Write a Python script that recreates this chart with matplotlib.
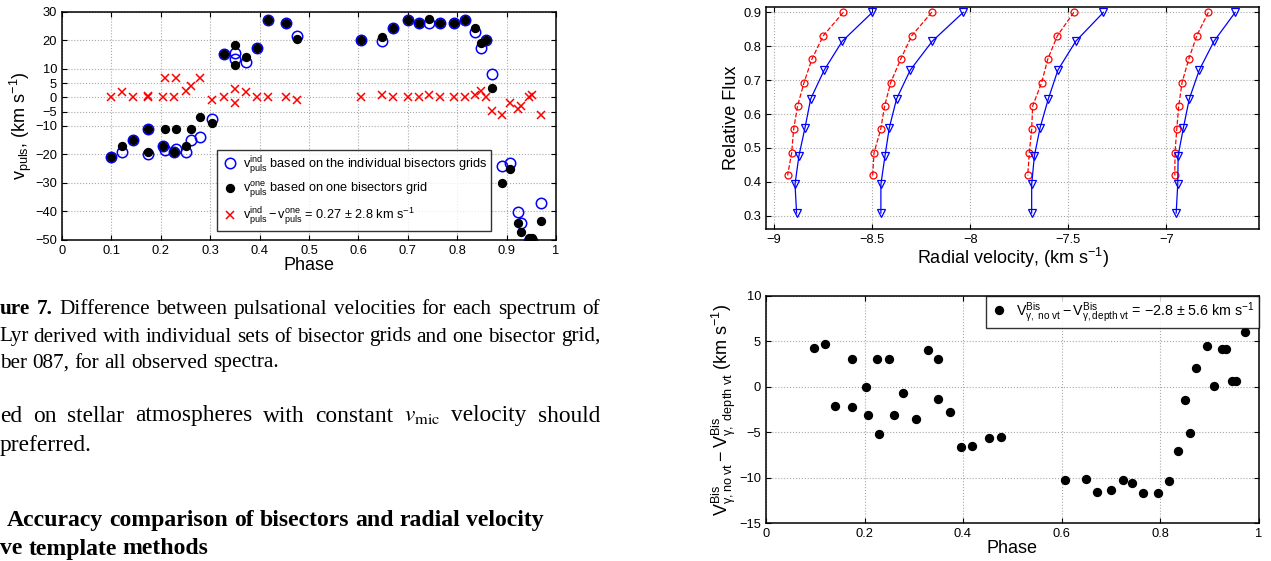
import matplotlib
matplotlib.use('Agg')
import matplotlib.pyplot as plt

plt.rcParams['font.family'] = ['Liberation Sans', 'DejaVu Sans']
plt.rcParams['mathtext.fontset'] = 'custom'
plt.rcParams['mathtext.rm'] = 'Liberation Sans'
plt.rcParams['mathtext.it'] = 'Liberation Sans:italic'
plt.rcParams['mathtext.bf'] = 'Liberation Sans:bold'
plt.rcParams['axes.unicode_minus'] = True

# ---------------- Left panel data ----------------
phase_a = [0.099, 0.121, 0.143, 0.175, 0.175, 0.204, 0.208, 0.227, 0.231, 0.250,
           0.261, 0.279, 0.304, 0.328, 0.350, 0.350, 0.372, 0.395, 0.418, 0.453,
           0.475, 0.605, 0.648, 0.671, 0.700, 0.722, 0.743, 0.765, 0.794, 0.816,
           0.836, 0.848, 0.858, 0.870, 0.891, 0.907, 0.924, 0.930, 0.946, 0.951,
           0.969]
v_ind = [-21.0, -19.1, -15.0, -11.0, -20.0, -17.0, -18.3, -19.1, -18.1, -19.1,
         -14.9, -14.0, -7.6, 15.2, 15.5, 13.4, 12.3, 17.3, 27.3, 26.2,
         21.6, 20.3, 19.9, 24.3, 27.3, 26.3, 26.3, 26.3, 26.3, 27.3,
         23.1, 17.3, 20.3, 8.2, -23.9, -22.9, -40.1, -44.2, -50.3, -50.3,
         -37.1]
v_one = [-21.0, -17.0, -15.0, -11.0, -19.1, -16.9, -11.0, -19.1, -11.0, -16.9,
         -11.0, -7.0, -9.0, 15.2, 18.3, 11.3, 14.3, 17.3, 27.3, 26.2,
         20.4, 20.3, 21.3, 24.3, 27.3, 26.3, 27.4, 26.3, 26.3, 27.3,
         24.3, 19.2, 20.3, 3.2, -29.9, -25.1, -44.2, -47.1, -49.4, -49.2,
         -43.2]
v_diff = [0.0, 2.1, 0.0, 0.7, 0.0, 0.0, 7.0, 0.0, 7.0, 2.2,
          4.0, 7.0, -1.0, 0.0, 3.0, -2.0, 2.0, 0.0, 0.0, 0.0,
          -1.0, 0.0, 1.0, 0.0, 0.0, 0.0, 1.0, 0.0, 0.0, 0.0,
          1.0, 2.2, 0.0, -4.8, -6.0, -2.1, -3.9, -3.0, 0.0, 1.0,
          -6.0]
left_xticks = [0, 0.1, 0.2, 0.3, 0.4, 0.5, 0.6, 0.7, 0.8, 0.9, 1]
left_xticklabels = ['0', '0.1', '0.2', '0.3', '0.4', '0.5', '0.6', '0.7', '0.8', '0.9', '1']
left_yticks = [-50, -40, -30, -20, -10, -5, 0, 5, 10, 20, 30]
left_yticklabels = ['\u221250', '\u221240', '\u221230', '\u221220', '\u221210', '\u22125',
                    '0', '5', '10', '20', '30']

# ---------------- Top-right panel data ----------------
flux_tri = [0.900, 0.815, 0.730, 0.645, 0.560, 0.477, 0.393, 0.308]
flux_circ = [0.900, 0.831, 0.762, 0.693, 0.624, 0.555, 0.486, 0.419]
rv_tri_1 = [-8.500, -8.653, -8.745, -8.814, -8.843, -8.874, -8.894, -8.886]
rv_circ_1 = [-8.648, -8.750, -8.808, -8.848, -8.881, -8.901, -8.911, -8.932]
rv_tri_2 = [-8.036, -8.194, -8.306, -8.376, -8.413, -8.435, -8.456, -8.456]
rv_circ_2 = [-8.197, -8.299, -8.355, -8.406, -8.437, -8.457, -8.491, -8.498]
rv_tri_3 = [-7.321, -7.462, -7.553, -7.602, -7.644, -7.673, -7.687, -7.687]
rv_circ_3 = [-7.472, -7.556, -7.605, -7.636, -7.682, -7.687, -7.699, -7.707]
rv_tri_4 = [-6.649, -6.757, -6.832, -6.883, -6.913, -6.940, -6.942, -6.950]
rv_circ_4 = [-6.786, -6.845, -6.886, -6.920, -6.937, -6.947, -6.956, -6.957]
rv_xticks = [-9, -8.5, -8, -7.5, -7]
rv_xticklabels = ['\u22129', '\u22128.5', '\u22128', '\u22127.5', '\u22127']
flux_yticks = [0.3, 0.4, 0.5, 0.6, 0.7, 0.8, 0.9]
flux_yticklabels = ['0.3', '0.4', '0.5', '0.6', '0.7', '0.8', '0.9']

# ---------------- Bottom-right panel data ----------------
phase_b = [0.098, 0.120, 0.141, 0.174, 0.174, 0.203, 0.208, 0.226, 0.230, 0.250,
           0.260, 0.279, 0.305, 0.328, 0.350, 0.350, 0.373, 0.395, 0.418, 0.453,
           0.477, 0.607, 0.650, 0.672, 0.701, 0.724, 0.744, 0.766, 0.796, 0.818,
           0.837, 0.850, 0.860, 0.873, 0.895, 0.910, 0.925, 0.935, 0.947, 0.954,
           0.972]
dv_bis = [4.26, 4.7, -2.1, 3.1, -2.2, -0.07, -3.1, 3.1, -5.2, 3.1,
          -3.1, -0.7, -3.5, 4.04, 3.0, -1.4, -2.8, -6.6, -6.5, -5.6,
          -5.5, -10.2, -10.1, -11.6, -11.3, -10.2, -10.6, -11.7, -11.7, -10.3,
          -7.1, -1.5, -5.1, 2.1, 4.5, 0.04, 4.2, 4.2, 0.66, 0.6,
          6.0]
br_xticks = [0, 0.2, 0.4, 0.6, 0.8, 1]
br_xticklabels = ['0', '0.2', '0.4', '0.6', '0.8', '1']
br_yticks = [-15, -10, -5, 0, 5, 10]
br_yticklabels = ['\u221215', '\u221210', '\u22125', '0', '5', '10']

W, H = 1271, 561
fig = plt.figure(figsize=(W / 100, H / 100), dpi=100)
fig.patch.set_facecolor('white')

GRID = dict(linestyle=':', color='#a8a8a8', linewidth=0.8)
TICKFS = 9.3
LABFS = 13


def style(ax):
    ax.tick_params(direction='in', top=True, right=True, length=3.5, width=0.8,
                   labelsize=TICKFS, pad=3.5)
    for s in ax.spines.values():
        s.set_linewidth(1.1)
    ax.grid(True, **GRID)
    ax.set_axisbelow(True)


# ---------------- Left panel ----------------
axL = fig.add_axes([62 / W, 1 - 240 / H, 494 / W, 228 / H])
axL.plot(phase_a, v_ind, linestyle='none', marker='o', mfc='none', mec='#0000ff',
         ms=7.5, mew=1.1,
         label=r'$\mathregular{v^{ind}_{puls}}$ based on the individual bisectors grids')
axL.plot(phase_a, v_one, linestyle='none', marker='o', color='k', ms=5.7,
         label=r'$\mathregular{v^{one}_{puls}}$ based on one bisectors grid')
axL.plot(phase_a, v_diff, linestyle='none', marker='x', color='#ff0000', ms=5.5, mew=1.1,
         label=r'$\mathregular{v^{ind}_{puls}-v^{one}_{puls}}$ = 0.27 $\mathregular{\pm}$ 2.8 km s$^{-1}$')
axL.set_xlim(0, 1)
axL.set_ylim(-50, 30)
axL.set_xticks(left_xticks)
axL.set_xticklabels(left_xticklabels)
axL.set_yticks(left_yticks)
axL.set_yticklabels(left_yticklabels)
style(axL)
axL.set_xlabel('Phase', fontsize=LABFS, labelpad=0)
axL.set_ylabel(r'$\mathregular{v_{puls}}$, (km s$^{-1}$)', fontsize=LABFS, labelpad=1)
legL = axL.legend(loc='lower right', bbox_to_anchor=(0.868, 0.039), borderaxespad=0,
                  fontsize=9.2, frameon=True, fancybox=False, edgecolor='k',
                  labelspacing=0.4, handletextpad=0.3, borderpad=0.3, handlelength=1.4)
legL.get_frame().set_linewidth(1.0)

# ---------------- Top-right panel ----------------
axT = fig.add_axes([766 / W, 1 - 229 / H, 493.3 / W, 221.7 / H])
for rv_c, rv_t in [(rv_circ_1, rv_tri_1), (rv_circ_2, rv_tri_2),
                   (rv_circ_3, rv_tri_3), (rv_circ_4, rv_tri_4)]:
    axT.plot(rv_c, flux_circ, linestyle='--', color='#ff0000', marker='o', mfc='none',
             ms=5, mew=0.9, lw=0.9)
    axT.plot(rv_t, flux_tri, linestyle='-', color='#0000ff', marker='v', mfc='none',
             ms=6, mew=0.9, lw=0.9)
axT.set_xlim(-9.042, -6.526)
axT.set_ylim(0.261, 0.915)
axT.set_xticks(rv_xticks)
axT.set_xticklabels(rv_xticklabels)
axT.set_yticks(flux_yticks)
axT.set_yticklabels(flux_yticklabels)
style(axT)
axT.set_xlabel(r'Radial velocity, (km s$^{-1}$)', fontsize=LABFS, labelpad=0)
axT.set_ylabel('Relative Flux', fontsize=LABFS, labelpad=2)

# ---------------- Bottom-right panel ----------------
axB = fig.add_axes([766 / W, 1 - 523.3 / H, 492.5 / W, 227.6 / H])
axB.plot(phase_b, dv_bis, linestyle='none', marker='o', color='k', ms=5.7,
         label=r'$\mathregular{V^{Bis}_{\gamma,\ no\ vt}-V^{Bis}_{\gamma,depth\ vt}}$ = $\mathregular{-}$2.8 $\mathregular{\pm}$ 5.6 km s$^{-1}$')
axB.set_xlim(0, 1)
axB.set_ylim(-15, 10)
axB.set_xticks(br_xticks)
axB.set_xticklabels(br_xticklabels)
axB.set_yticks(br_yticks)
axB.set_yticklabels(br_yticklabels)
style(axB)
axB.set_xlabel('Phase', fontsize=LABFS, labelpad=0)
axB.set_ylabel(r'$\mathregular{V^{Bis}_{\gamma,no\ vt}-V^{Bis}_{\gamma,\ depth\ vt}}$ (km s$^{-1}$)',
               fontsize=LABFS, labelpad=1)
legB = axB.legend(loc='upper right', bbox_to_anchor=(1, 1), borderaxespad=0,
                  fontsize=10.3, frameon=True, fancybox=False, edgecolor='k',
                  handletextpad=0.5, borderpad=0.28, handlelength=1.3)
legB.get_frame().set_linewidth(1.0)

# ---------------- Page text ----------------
renderer = fig.canvas.get_renderer()
SERIF = 'Liberation Serif'


def make_words(words, y, size):
    ts = []
    for w, wt in words:
        ts.append(fig.text(0, 1 - y / H, w, fontsize=size, fontweight=wt, family=SERIF,
                           math_fontfamily='stix', va='baseline', ha='left'))
    return ts


def place(words, x0, y, size, x1=None):
    ts = make_words(words, y, size)
    widths = [t.get_window_extent(renderer).width for t in ts]
    space = size * 100 / 72 * 0.25
    if x1 is not None and len(ts) > 1:
        space = (x1 - x0 - sum(widths)) / (len(ts) - 1)
    x = x0
    for t, w in zip(ts, widths):
        t.set_x(x / W)
        x += w + space
    return ts


def fit_size(text, weight, target, size0=14):
    t = fig.text(0, 0, text, fontsize=size0, fontweight=weight, family=SERIF)
    w = t.get_window_extent(renderer).width
    t.remove()
    return size0 * target / w


def split(s, wt='normal'):
    return [(w, wt) for w in s.split()]


cap_size = fit_size('ber 087, for all observed spectra.', 'normal', 280)
place([('ure', 'bold'), ('7.', 'bold')] + split('Difference between pulsational velocities for each spectrum of'),
      0, 314, cap_size, 600)
place(split('Lyr derived with individual sets of bisector grids and one bisector grid,'),
      -1, 341.5, cap_size, 600)
place(split('ber 087, for all observed spectra.'), 0, 367.5, cap_size)

par_size = cap_size * 1.1
place(split('ed on stellar atmospheres with constant') + [(r'$v_{\rm mic}$', 'normal')] +
      split('velocity should'), 0, 421.5, par_size, 600)
place(split('preferred.'), 0, 450.5, par_size)

head_size = fit_size('Accuracy comparison of bisectors and radial velocity', 'bold', 538)
place(split('Accuracy comparison of bisectors and radial velocity', 'bold'), 7, 526, head_size)
place(split('ve template methods', 'bold'), 0, 554.5, head_size)

fig.savefig('out.png', dpi=100, facecolor='white')
